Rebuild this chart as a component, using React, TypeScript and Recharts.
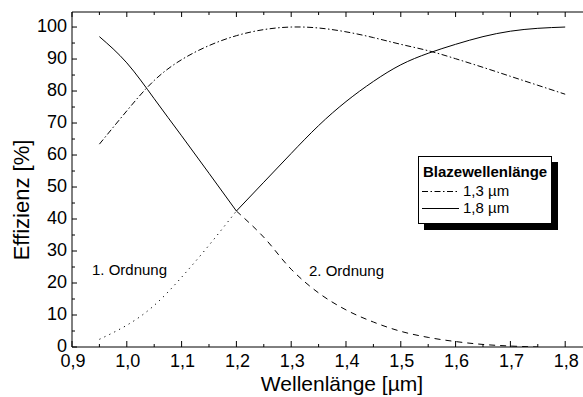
import { LineChart, Line, XAxis, YAxis } from 'recharts';

// wavelength grid in µm
const wavelengths = [0.95, 1.0, 1.05, 1.1, 1.15, 1.2, 1.25, 1.3, 1.35, 1.4, 1.45, 1.5, 1.55, 1.6, 1.65, 1.7, 1.75, 1.8];

// Blazewellenlänge 1,3 µm
const blaze13 = [63.4, 73.8, 83.3, 89.8, 94.2, 97.3, 99.2, 100, 99.7, 98.5, 96.7, 94.6, 92.6, 90.1, 87.4, 84.6, 81.8, 79.0];
// Blazewellenlänge 1,8 µm - two branches meeting in the kink at 1,2 µm
const blaze18Left = [97.0, 88.8, 77.6, 66.0, 54.3, 42.5];
const blaze18Right = [42.5, 51.5, 60.5, 69.2, 76.7, 83.0, 88.2, 91.8, 94.6, 97.0, 98.7, 99.6, 100];
// continuation of the orders past the kink
const order1 = [2.4, 6.8, 13.0, 21.8, 31.8, 42.5];
const order2 = [42.5, 34.3, 24.3, 16.9, 11.6, 7.8, 4.9, 3.0, 1.7, 0.8, 0.3, 0];

const kinkIndex = 5;

const xTicks = [0.9, 0.95, 1.0, 1.05, 1.1, 1.15, 1.2, 1.25, 1.3, 1.35, 1.4, 1.45, 1.5, 1.55, 1.6, 1.65, 1.7, 1.75, 1.8];
const yTicks = [0, 5, 10, 15, 20, 25, 30, 35, 40, 45, 50, 55, 60, 65, 70, 75, 80, 85, 90, 95, 100];

const data = wavelengths.map((x, i) => ({
  x,
  b13: blaze13[i],
  b18a: i <= kinkIndex ? blaze18Left[i] : null,
  b18b: i >= kinkIndex ? blaze18Right[i - kinkIndex] ?? null : null,
  o1: i <= kinkIndex ? order1[i] : null,
  o2: i >= kinkIndex ? order2[i - kinkIndex] ?? null : null,
}));

const FONT = '"Liberation Sans", Arial, sans-serif';

const DASH_13 = '6 2.5 1.5 2.5';
const DOT = '1.2 4.3';
const DASH = '6 5';

const isMajorX = (v: number) => Math.abs(v * 10 - Math.round(v * 10)) < 1e-6;
const isMajorY = (v: number) => v % 10 === 0;
const fmtX = (v: number) => v.toFixed(1).replace('.', ',');

const BottomTick = ({ x, y, payload }: any) => {
  const major = isMajorX(payload.value);
  return (
    <g>
      <line x1={x} x2={x} y1={y} y2={y - (major ? 6 : 3)} stroke="#000" />
      {major && (
        <text x={x + 1} y={y + 20} textAnchor="middle" fontFamily={FONT} fontSize={18} fill="#000">
          {fmtX(payload.value)}
        </text>
      )}
    </g>
  );
};

const TopTick = ({ x, y, payload }: any) => {
  const major = isMajorX(payload.value);
  return <line x1={x} x2={x} y1={y} y2={y + (major ? 5 : 3)} stroke="#000" />;
};

const LeftTick = ({ x, y, payload }: any) => {
  const major = isMajorY(payload.value);
  return (
    <g>
      <line x1={x} x2={x + (major ? 5 : 3)} y1={y} y2={y} stroke="#000" />
      {major && (
        <text x={x - 5} y={y + 5} textAnchor="end" fontFamily={FONT} fontSize={18} fill="#000">
          {payload.value}
        </text>
      )}
    </g>
  );
};

export default function App() {
  return (
    <div style={{ position: 'absolute', left: 0, top: 0, width: 583, height: 397, background: '#fff' }}>
      <LineChart width={583} height={397} data={data} margin={{ top: 0, right: 0, left: 0, bottom: 0 }}>
        <XAxis
          dataKey="x"
          type="number"
          domain={[0.9, 1.8325]}
          ticks={xTicks}
          interval={0}
          height={50}
          tickSize={0}
          tickMargin={0}
          tickLine={false}
          axisLine={{ stroke: '#000' }}
          tick={<BottomTick />}
          allowDataOverflow
        />
        <XAxis
          xAxisId="top"
          orientation="top"
          dataKey="x"
          type="number"
          domain={[0.9, 1.8325]}
          ticks={xTicks}
          interval={0}
          height={12}
          tickSize={0}
          tickMargin={0}
          tickLine={false}
          axisLine={{ stroke: '#000' }}
          tick={<TopTick />}
          allowDataOverflow
        />
        <YAxis
          type="number"
          domain={[0, 104.7]}
          ticks={yTicks}
          interval={0}
          width={72}
          tickSize={0}
          tickMargin={0}
          tickLine={false}
          axisLine={{ stroke: '#000' }}
          tick={<LeftTick />}
          allowDataOverflow
        />
        <Line dataKey="b13" type="natural" stroke="#000" strokeWidth={1} strokeDasharray={DASH_13} dot={false} activeDot={false} isAnimationActive={false} />
        <Line dataKey="b18a" type="natural" stroke="#000" strokeWidth={1} dot={false} activeDot={false} isAnimationActive={false} />
        <Line dataKey="b18b" type="natural" stroke="#000" strokeWidth={1} dot={false} activeDot={false} isAnimationActive={false} />
        <Line dataKey="o1" type="natural" stroke="#000" strokeWidth={1} strokeDasharray={DOT} dot={false} activeDot={false} isAnimationActive={false} />
        <Line dataKey="o2" type="monotone" stroke="#000" strokeWidth={1} strokeDasharray={DASH} dot={false} activeDot={false} isAnimationActive={false} />
      </LineChart>

      {/* titles, order labels and the legend box */}
      <svg width={583} height={397} style={{ position: 'absolute', left: 0, top: 0, pointerEvents: 'none' }}>
        <text x={342} y={391} textAnchor="middle" fontFamily={FONT} fontSize={21} fill="#000">
          Wellenlänge [µm]
        </text>
        <text transform="translate(29,200) rotate(-90)" textAnchor="middle" fontFamily={FONT} fontSize={22} fill="#000">
          Effizienz [%]
        </text>
        <text x={92} y={275} fontFamily={FONT} fontSize={15} fill="#000">1. Ordnung</text>
        <text x={309} y={276} fontFamily={FONT} fontSize={15} fill="#000">2. Ordnung</text>

        <rect x={424} y={162} width={134} height={68} fill="#000" />
        <rect x={418.5} y={156.5} width={133} height={67} fill="#fff" stroke="#000" />
        <text x={423} y={177} fontFamily={FONT} fontSize={15} fontWeight="bold" fill="#000">Blazewellenlänge</text>
        <line x1={422} x2={459} y1={191.5} y2={191.5} stroke="#000" strokeDasharray={DASH_13} />
        <text x={463} y={196} fontFamily={FONT} fontSize={15} fill="#000">1,3 µm</text>
        <line x1={422} x2={459} y1={208.5} y2={208.5} stroke="#000" />
        <text x={463} y={213} fontFamily={FONT} fontSize={15} fill="#000">1,8 µm</text>
      </svg>
    </div>
  );
}
